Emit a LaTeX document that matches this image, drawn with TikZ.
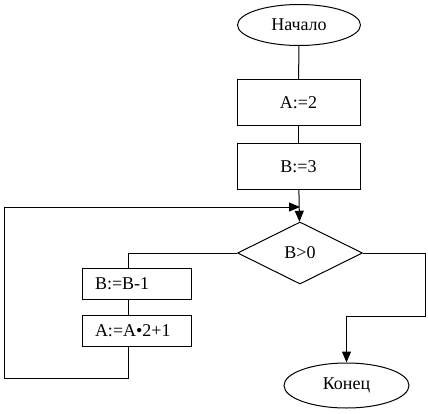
\documentclass[tikz,border=0pt]{standalone}
\usepackage{fontspec}
\setmainfont{Liberation Serif}
\usetikzlibrary{arrows.meta,shapes.geometric}

\begin{document}
\begin{tikzpicture}[x=1pt,y=-1pt,font=\fontsize{18}{20}\selectfont,term/.style={ellipse,draw,inner sep=0pt,minimum width=123pt,minimum height=41pt},act/.style={draw,inner sep=0pt,minimum width=123pt,minimum height=46pt},sub/.style={draw,inner xsep=13pt,inner ysep=0pt,text width=83pt,align=left,minimum height=31pt},dec/.style={diamond,draw,inner sep=0pt,minimum width=125pt,minimum height=62pt},flow/.style={-{Triangle[length=11pt,width=9pt]}},line width=1pt]
\useasboundingbox (0,0) rectangle (428,414);
\node[term] (start) at (299,25) {Начало};
\node[act] (a) at (298.5,103) {A:=2};
\node[act] (b) at (298.5,166.5) {B:=3};
\node[dec] (q) at (300,253) {B>0};
\node[sub] (bdec) at (136.5,284) {B:=B-1};
\node[sub] (anew) at (136.5,330.5) {A:=A•2+1};
\node[term,minimum width=125pt,minimum height=45pt] (stop) at (346.5,385.5) {Конец};
\coordinate (join) at (300,207);\coordinate (lx) at (128,378);\coordinate (lt) at (4,207);\coordinate (rx) at (425,316);
\draw (start)--(a);\draw (a)--(b);\draw[flow] (b)--(q);
\draw (q.west)-|(lx |- bdec.north);\draw (lx |- bdec.south)--(lx |- anew.north);
\draw[flow] (lx |- anew.south)--(lx)-|(lt)--(join);
\draw[flow] (q.east)-|(rx)-|(stop.north);
\end{tikzpicture}
\end{document}
